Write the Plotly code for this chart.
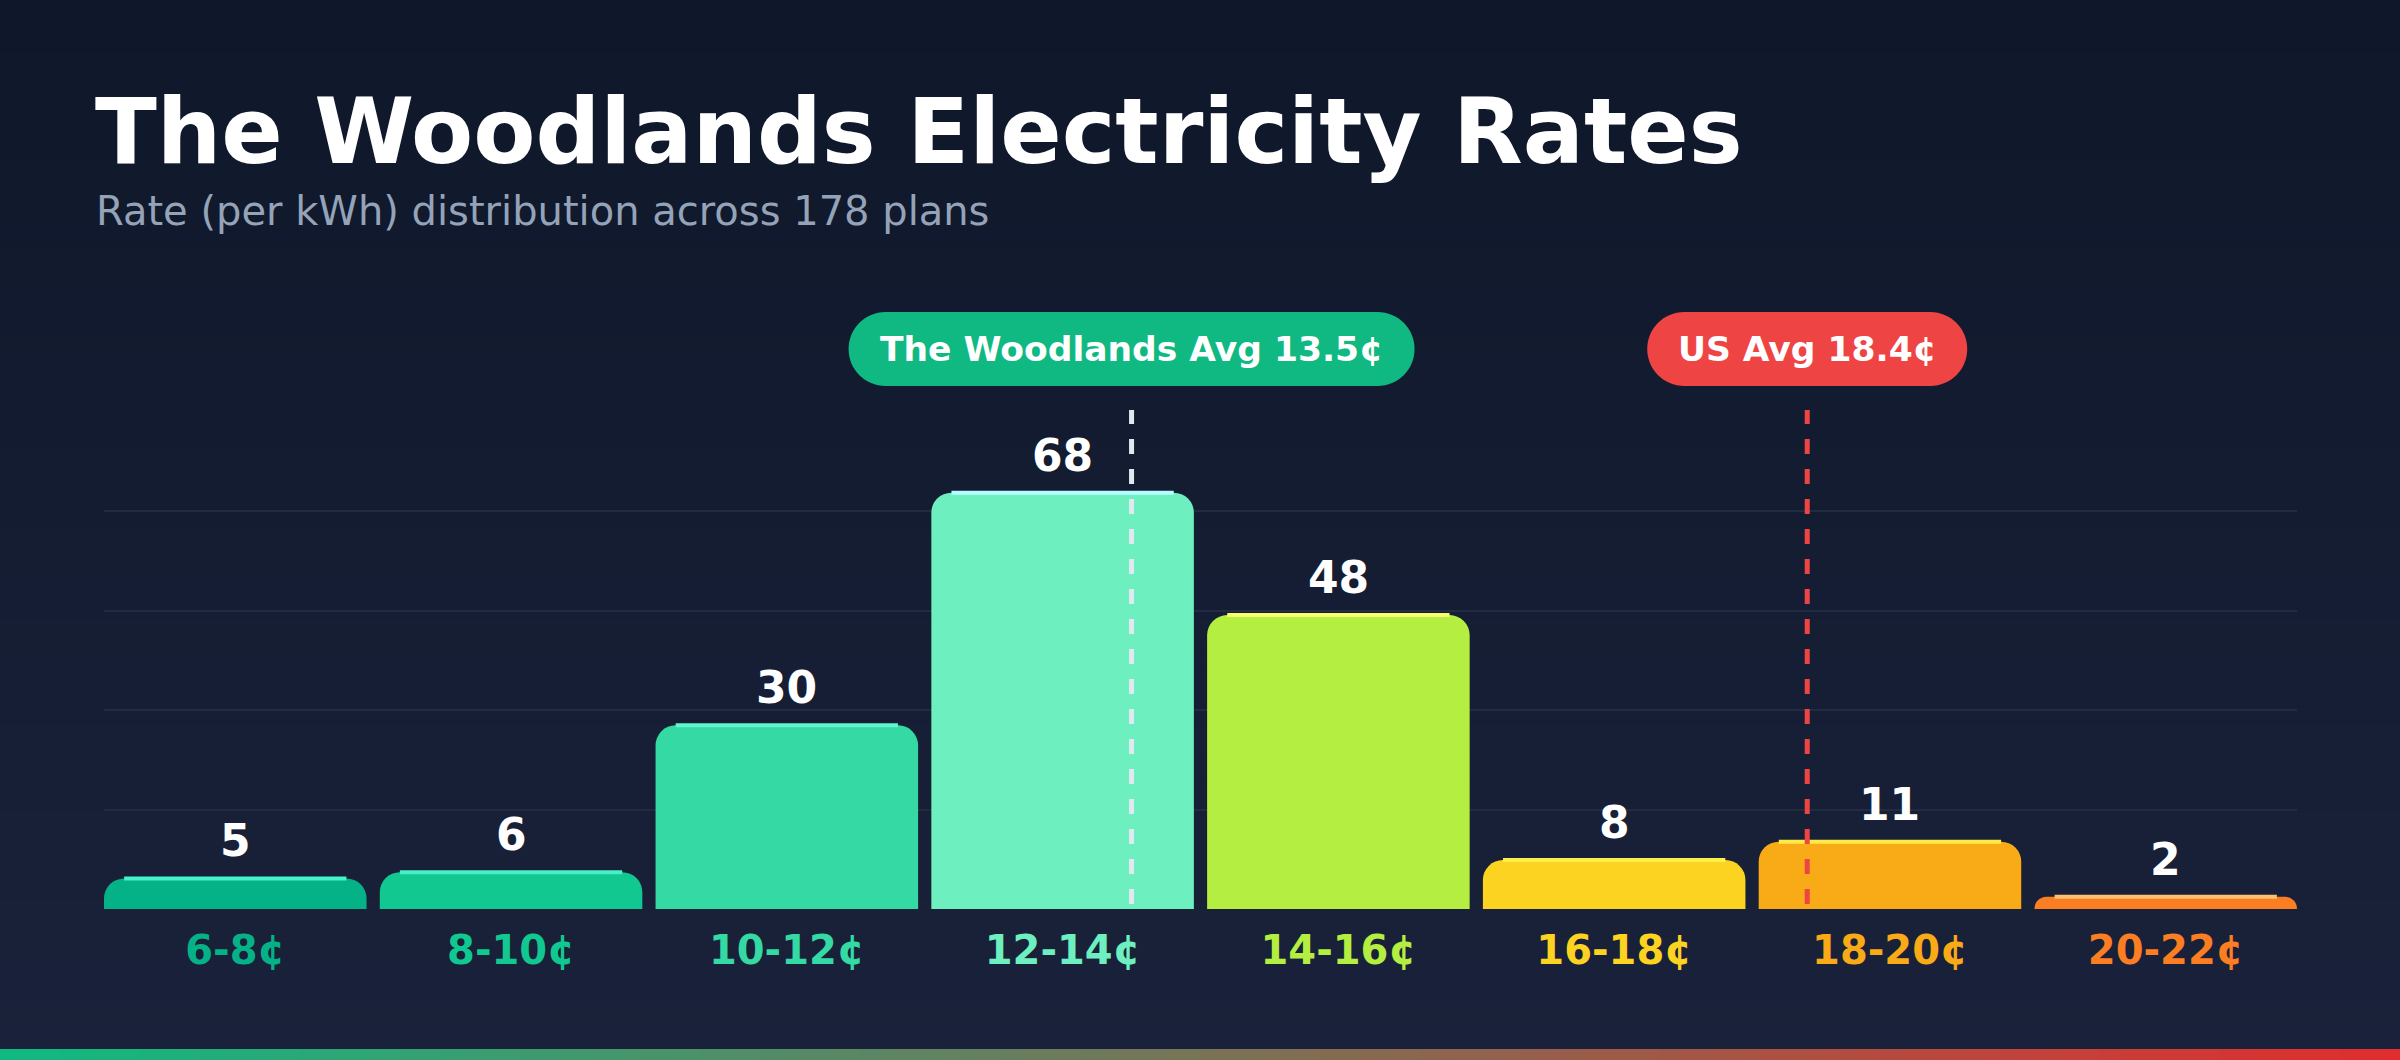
import plotly.graph_objects as go

# bins and plan counts
bins = ["6-8¢", "8-10¢", "10-12¢", "12-14¢", "14-16¢", "16-18¢", "18-20¢", "20-22¢"]
counts = [5, 6, 30, 68, 48, 8, 11, 2]
bar_colors = ["#05b187", "#10c890", "#34d9a3", "#6eefc0", "#b3ee41", "#fcd321", "#f9aa17", "#fb7e23"]
top_colors = ["#43f5c8", "#4af0c3", "#5cf7d0", "#b5fcff", "#fafc70", "#fdf04a", "#fdeb4a", "#fdc070"]
bin_start, bin_width = 6, 2
local_avg = 13.5
us_avg = 18.4
grid_vals = [16.25, 32.5, 48.75, 65]
y_max = 81.5

W, H = 2400, 1060
L, R, T, B = 104, 103, 410, 151
PW, PH = W - L - R, H - T - B
FONT = "DejaVu Sans"
GAP = 0.048


def px_x(px):
    return (px - L) / PW


def px_y(py):
    return (H - B - py) / PH


def rate_pos(rate):
    return (rate - bin_start - bin_width / 2) / bin_width


def mix(c1, c2, t):
    a = [int(c1[i:i + 2], 16) for i in (1, 3, 5)]
    b = [int(c2[i:i + 2], 16) for i in (1, 3, 5)]
    return "rgb({},{},{})".format(*[round(a[k] + (b[k] - a[k]) * t) for k in range(3)])


def pill(w, h):
    r = h / 2
    k = 0.5523 * r
    x0, x1 = -w / 2 + r, w / 2 - r
    return (f"M {x0},{-r} L {x1},{-r} "
            f"C {x1 + k},{-r} {x1 + r},{-k} {x1 + r},0 "
            f"C {x1 + r},{k} {x1 + k},{r} {x1},{r} "
            f"L {x0},{r} "
            f"C {x0 - k},{r} {x0 - r},{k} {x0 - r},0 "
            f"C {x0 - r},{-k} {x0 - k},{-r} {x0},{-r} Z")


fig = go.Figure()
fig.add_trace(go.Bar(
    x=list(range(len(bins))), y=counts,
    marker=dict(color=bar_colors, line=dict(width=0), cornerradius=20),
    hoverinfo="skip",
))

shapes = []
# background gradient
n_bands = 60
for i in range(n_bands):
    shapes.append(dict(
        type="rect", xref="paper", yref="paper", layer="below",
        x0=px_x(0), x1=px_x(W), y0=px_y(H * i / n_bands), y1=px_y(H * (i + 1) / n_bands + 1),
        fillcolor=mix("#0f172a", "#1a223b", i / (n_bands - 1)), line=dict(width=0),
    ))
# bottom strip gradient
n_seg = 120
for i in range(n_seg):
    shapes.append(dict(
        type="rect", xref="paper", yref="paper", layer="above",
        x0=px_x(W * i / n_seg), x1=px_x(W * (i + 1) / n_seg + 1), y0=px_y(1049), y1=px_y(H),
        fillcolor=mix("#10b981", "#e02d2d", i / (n_seg - 1)), line=dict(width=0),
    ))
# highlight strips on bar tops
for i, v in enumerate(counts):
    shapes.append(dict(
        type="line", xref="x", yref="y", x0=i - 0.403, x1=i + 0.403, y0=v, y1=v,
        line=dict(color=top_colors[i], width=4), layer="above",
    ))
# average lines
for rate, col in [(local_avg, "#e2e8f0"), (us_avg, "#ef4444")]:
    shapes.append(dict(
        type="line", xref="x", yref="paper", x0=rate_pos(rate), x1=rate_pos(rate), y0=0.01, y1=1,
        line=dict(color=col, width=5, dash="dash"), layer="above",
    ))

annotations = []
pill_y = px_y(349)
for rate, col, txt, w in [(local_avg, "#10b981", f"The Woodlands Avg {local_avg}¢", 566),
                          (us_avg, "#ef4444", f"US Avg {us_avg}¢", 320)]:
    shapes.append(dict(
        type="path", xref="x", yref="paper", xsizemode="pixel", ysizemode="pixel",
        xanchor=rate_pos(rate), yanchor=pill_y, path=pill(w, 74),
        fillcolor=col, line=dict(width=0), layer="above",
    ))
    annotations.append(dict(
        x=rate_pos(rate), y=pill_y, xref="x", yref="paper", text=txt, showarrow=False,
        font=dict(family=FONT, size=34.5, color="white", weight="bold"),
        xanchor="center", yanchor="middle",
    ))

for i, v in enumerate(counts):
    annotations.append(dict(
        x=i, y=v, xref="x", yref="y", text=str(v), showarrow=False,
        font=dict(family=FONT, size=44, color="white", weight="bold"),
        xanchor="center", yanchor="bottom", yshift=10,
    ))

annotations.append(dict(
    x=px_x(93), y=px_y(131), xref="paper", yref="paper", text="The Woodlands Electricity Rates",
    showarrow=False, xanchor="left", yanchor="middle",
    font=dict(family=FONT, size=90.6, color="white", weight="bold"),
))
annotations.append(dict(
    x=px_x(94), y=px_y(211), xref="paper", yref="paper", text="Rate (per kWh) distribution across 178 plans",
    showarrow=False, xanchor="left", yanchor="middle",
    font=dict(family=FONT, size=40, color="#94a3b8"),
))

tick_text = [f"<span style='color:{c}'>{b}</span>" for b, c in zip(bins, bar_colors)]

fig.update_layout(
    width=W, height=H,
    margin=dict(l=L, r=R, t=T, b=B),
    paper_bgcolor="#0f172a", plot_bgcolor="rgba(0,0,0,0)",
    bargap=GAP, showlegend=False,
    xaxis=dict(
        tickvals=list(range(len(bins))), ticktext=tick_text,
        range=[-0.5 + GAP / 2, len(bins) - 0.5 - GAP / 2],
        showgrid=False, zeroline=False, showline=False, ticks="",
        tickfont=dict(family=FONT, size=40, weight="bold"), ticklabelstandoff=14,
    ),
    yaxis=dict(
        range=[0, y_max], tickvals=grid_vals, showticklabels=False,
        gridcolor="#222c41", gridwidth=2, zeroline=False, showline=False,
    ),
    shapes=shapes, annotations=annotations,
)

fig.write_html("out.html", config={"displayModeBar": False},
               post_script="document.body.style.margin='0';")
